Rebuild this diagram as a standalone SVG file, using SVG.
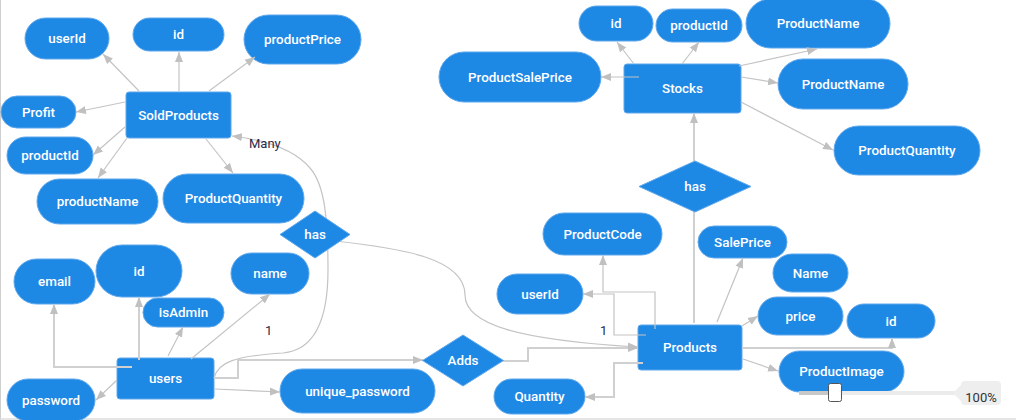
<svg xmlns="http://www.w3.org/2000/svg" width="1016" height="420" viewBox="0 0 1016 420">
<style>
.n{fill:#1e88e5;stroke:#5fa8ec;stroke-width:1}
.t{fill:#ffffff;font-family:Roboto,"Liberation Sans",Arial,sans-serif;font-size:13.4px;font-weight:500;text-anchor:middle;dominant-baseline:central}
.c{fill:none;stroke:#c4c4c4;stroke-width:1.2}
.w{stroke-width:2;stroke:#d0d0d0}
.a{marker-end:url(#arr)}
.lbl{fill:#2a2a4a;font-family:Roboto,"Liberation Sans",Arial,sans-serif;font-size:13px}
</style>
<defs>
<marker id="arr" viewBox="0 0 10 10" refX="10" refY="5" markerWidth="10" markerHeight="10" markerUnits="userSpaceOnUse" orient="auto">
<path d="M0,1 L10,5 L0,9 z" fill="#c0c0c0"/>
</marker>
</defs>
<rect x="0" y="0" width="1016" height="420" fill="#ffffff"/>
<line x1="0.5" y1="0" x2="0.5" y2="420" stroke="#cfcfcf" stroke-width="1"/>
<line x1="0" y1="419" x2="1016" y2="419" stroke="#dddddd" stroke-width="1.5"/>

<!-- SoldProducts side -->
<g id="attr-sp-userId"><rect class="n" x="25" y="18" width="84" height="41" rx="20.5"/><text class="t" x="67" y="38.5">userId</text></g>
<g id="attr-sp-id"><rect class="n" x="133" y="18" width="91" height="33" rx="16.5"/><text class="t" x="178.5" y="34.5">id</text></g>
<g id="attr-sp-productPrice"><rect class="n" x="244" y="15" width="117" height="49" rx="24.5"/><text class="t" x="302.5" y="39.5">productPrice</text></g>
<g id="attr-sp-profit"><rect class="n" x="1" y="96" width="75" height="32" rx="16"/><text class="t" x="38.5" y="112">Profit</text></g>
<g id="attr-sp-productId"><rect class="n" x="7" y="137" width="86" height="37" rx="18.5"/><text class="t" x="50" y="155.5">productId</text></g>
<g id="attr-sp-productName"><rect class="n" x="37" y="179" width="121" height="45" rx="22.5"/><text class="t" x="97.5" y="201.5">productName</text></g>
<g id="attr-sp-productQuantity"><rect class="n" x="163" y="174" width="141" height="49" rx="24.5"/><text class="t" x="233.5" y="198.5">ProductQuantity</text></g>
<g id="SoldProducts"><rect class="n" x="126" y="92" width="105" height="46" rx="3"/><text class="t" x="178.5" y="115">SoldProducts</text></g>

<!-- users side -->
<g id="attr-u-email"><rect class="n" x="14" y="259" width="81" height="45" rx="22.5"/><text class="t" x="54.5" y="281.5">email</text></g>
<g id="attr-u-id"><rect class="n" x="96" y="245" width="86" height="52" rx="26"/><text class="t" x="139" y="271">id</text></g>
<g id="attr-u-isAdmin"><rect class="n" x="143" y="298" width="81" height="29" rx="14.5"/><text class="t" x="183.5" y="312.5">isAdmin</text></g>
<g id="attr-u-name"><rect class="n" x="231" y="253" width="78" height="41" rx="20.5"/><text class="t" x="270" y="273.5">name</text></g>
<g id="users"><rect class="n" x="117" y="358" width="97" height="41" rx="3"/><text class="t" x="165.5" y="378.5">users</text></g>
<g id="attr-u-password"><rect class="n" x="7" y="379" width="88" height="42" rx="21"/><text class="t" x="51" y="400">password</text></g>
<g id="attr-u-unique_password"><rect class="n" x="280" y="369" width="155" height="44" rx="22"/><text class="t" x="357.5" y="391">unique_password</text></g>

<!-- Stocks side -->
<g id="attr-s-id"><rect class="n" x="579" y="6" width="74" height="35" rx="17.5"/><text class="t" x="616" y="23.5">id</text></g>
<g id="attr-s-productId"><rect class="n" x="656" y="9" width="86" height="33" rx="16.5"/><text class="t" x="699" y="25.5">productId</text></g>
<g id="attr-s-productName1"><rect class="n" x="746" y="-1" width="144" height="49" rx="24.5"/><text class="t" x="818" y="23.5">ProductName</text></g>
<g id="attr-s-productSalePrice"><rect class="n" x="439" y="52" width="162" height="50" rx="25"/><text class="t" x="520" y="77">ProductSalePrice</text></g>
<g id="Stocks"><rect class="n" x="624" y="64" width="117" height="49" rx="3"/><text class="t" x="682.5" y="88.5">Stocks</text></g>
<g id="attr-s-productName2"><rect class="n" x="778" y="59" width="130" height="50" rx="25"/><text class="t" x="843" y="84">ProductName</text></g>
<g id="attr-s-productQuantity"><rect class="n" x="834" y="126" width="146" height="49" rx="24.5"/><text class="t" x="907" y="150.5">ProductQuantity</text></g>

<!-- Products side -->
<g id="attr-p-productCode"><rect class="n" x="543" y="213" width="119" height="42" rx="21"/><text class="t" x="602.5" y="234">ProductCode</text></g>
<g id="attr-p-salePrice"><rect class="n" x="698" y="226" width="89" height="32" rx="16"/><text class="t" x="742.5" y="242">SalePrice</text></g>
<g id="attr-p-name"><rect class="n" x="773" y="254" width="75" height="38" rx="19"/><text class="t" x="810.5" y="273">Name</text></g>
<g id="attr-p-price"><rect class="n" x="758" y="297" width="85" height="38" rx="19"/><text class="t" x="800.5" y="316">price</text></g>
<g id="attr-p-id"><rect class="n" x="847" y="304" width="88" height="34" rx="17"/><text class="t" x="891" y="321">id</text></g>
<g id="attr-p-userId"><rect class="n" x="497" y="274" width="86" height="40" rx="20"/><text class="t" x="540" y="294">userId</text></g>
<g id="Products"><rect class="n" x="638" y="325" width="104" height="45" rx="3"/><text class="t" x="690" y="347.5">Products</text></g>
<g id="attr-p-productImage"><rect class="n" x="779" y="351" width="125" height="41" rx="20.5"/><text class="t" x="841.5" y="371.5">ProductImage</text></g>
<g id="attr-p-quantity"><rect class="n" x="494" y="379" width="91" height="35" rx="17.5"/><text class="t" x="539.5" y="396.5">Quantity</text></g>

<g id="connectors">
<line class="c a" x1="139" y1="91" x2="103" y2="54"/>
<line class="c a" x1="179" y1="91" x2="179" y2="52"/>
<line class="c a" x1="209" y1="91" x2="255" y2="57"/>
<line class="c a" x1="125" y1="102" x2="76" y2="112"/>
<line class="c a" x1="125" y1="127" x2="93" y2="155"/>
<line class="c a" x1="127" y1="138" x2="98" y2="178"/>
<line class="c a" x1="206" y1="139" x2="233" y2="173"/>
<path class="c a" d="M214,378 C218,362 235,356 283,353 C315,350 328,320 328,270 C328,220 325,185 310,168 C295,150 265,140 232,136"/>
<polyline class="c w a" points="132,367 54,367 54,304"/>
<line class="c w a" x1="139" y1="360" x2="139" y2="297"/>
<line class="c a" x1="168" y1="356" x2="183" y2="327"/>
<line class="c a" x1="191" y1="359" x2="270" y2="294"/>
<line class="c a" x1="117" y1="380" x2="96" y2="400"/>
<line class="c a" x1="215" y1="389" x2="280" y2="392"/>
<polyline class="c w a" points="214,378 238,378 238,360 423,360"/>
<line class="c a" x1="634" y1="64" x2="617" y2="42"/>
<line class="c a" x1="682" y1="64" x2="699" y2="42"/>
<line class="c a" x1="739" y1="66" x2="817" y2="49"/>
<line class="c a" x1="639" y1="77" x2="601" y2="77"/>
<line class="c a" x1="741" y1="77" x2="778" y2="83"/>
<line class="c a" x1="741" y1="102" x2="833" y2="150"/>
<line class="c w a" x1="694" y1="161" x2="694" y2="113"/>
<line class="c w" x1="694" y1="323" x2="694" y2="212"/>
<polyline class="c a" points="655,329 655,292 603,292 603,255"/>
<polyline class="c a" points="646,335 614,335 614,294 583,294"/>
<line class="c a" x1="717" y1="322" x2="743" y2="258"/>
<line class="c a" x1="742" y1="326" x2="758" y2="316"/>
<polyline class="c w a" points="742,348 892,348 892,338"/>
<line class="c a" x1="743" y1="359" x2="778" y2="371"/>
<polyline class="c w a" points="643,363 614,363 614,397 585,397"/>
<polyline class="c w a" points="503,361 528,361 528,348 638,348"/>
<path class="c a" d="M335,241 C400,248 465,258 465,295 C465,325 520,340 638,347"/>
</g>

<g id="rel-has-users"><polygon class="n" points="280,234.5 315,211 350,234.5 315,258"/><text class="t" x="315" y="234.5">has</text></g>
<g id="rel-adds"><polygon class="n" points="422.5,360.5 463,335 503.5,360.5 463,386"/><text class="t" x="463" y="360.5">Adds</text></g>
<g id="rel-has-stocks"><polygon class="n" points="639,186.5 695,161 751,186.5 695,212"/><text class="t" x="695" y="186.5">has</text></g>

<g id="labels">
<text class="lbl" x="249" y="148">Many</text>
<text class="lbl" x="265" y="335">1</text>
<text class="lbl" x="600" y="335">1</text>
</g>

<g id="zoom-slider">
<rect x="799" y="391" width="156" height="4" fill="#ebebeb"/>
<rect x="799" y="391" width="32" height="4" fill="#c8c8c8"/>
<rect x="828.5" y="383.5" width="13" height="18" rx="2" fill="#ffffff" stroke="#555555" stroke-width="1"/>
<path d="M953,393 L961,385 Q961,381 965,381 L997,381 Q1001,381 1001,385 L1001,401 Q1001,405 997,405 L965,405 Q961,405 961,401 Z" fill="#eeeeee"/>
<text x="981" y="397.5" font-family="Roboto,'Liberation Sans',Arial,sans-serif" font-size="13" fill="#333333" text-anchor="middle" dominant-baseline="central">100%</text>
</g>
</svg>
